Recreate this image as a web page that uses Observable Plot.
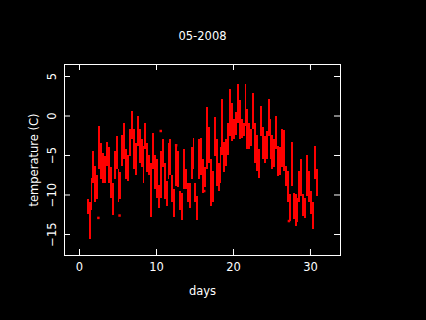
<!DOCTYPE html>
<html>
<head>
<meta charset="utf-8">
<script src="https://cdn.jsdelivr.net/npm/d3@7"></script>
<script src="https://cdn.jsdelivr.net/npm/@observablehq/plot@0.6"></script>
<style>
html, body { margin: 0; padding: 0; background: #000; }
#chart { width: 426px; height: 320px; }
</style>
</head>
<body>
<div id="chart"></div>
<script>
const title = "05-2008";
const xLabel = "days";
const yLabel = "temperature (C)";
const xTicks = [0, 10, 20, 30];
const xTickLabels = ["0", "10", "20", "30"];
const yTicks = [5, 0, -5, -10, -15];
const yTickLabels = ["5", "0", "\u22125", "\u221210", "\u221215"];

// days of the month and the four 6-hour blocks within each day
const days = [1,2,3,4,5,6,7,8,9,10,11,12,13,14,15,16,17,18,19,20,21,22,23,24,25,26,27,28,29,30];
const quarterOffsets = [0, 0.25, 0.5, 0.75];

// lowest / highest reading in each 6-hour block (°C)
const tempLow = [
  [-12.5,-15.6,-11.9,-8.5], [-11,-10.6,-6.8,-8.1], [-8.5,-8.5,-6.4,-8.5], [-10.5,-12.6,-8.1,-6.8],
  [-11,-10.6,-6.4,-5.5], [-8.1,-8.3,-5.1,-3], [-6.8,-7.5,-3.8,-6], [-6.5,-8.5,-4.3,-7.2],
  [-7.5,-12.8,-6.8,-9.3], [-10.5,-11.7,-10.5,-6.5], [-10.6,-11.4,-8.1,-7.5], [-11,-12.9,-8.9,-9],
  [-12,-13.2,-9.3,-9.3], [-11,-11.7,-8,-6.8], [-11,-13.2,-8.1,-7.5], [-9.8,-9,-6.8,-6],
  [-11.5,-11,-5.1,-8.9], [-9.5,-8.5,-5,-7.2], [-6.4,-5,-2.6,-3.2], [-3,-2.5,-1,-3],
  [-2.8,-2.6,-1.3,-4.3], [-4.3,-3.8,-1.7,-6], [-7,-7.9,-2.6,-5.5], [-6,-5.5,-2.6,-5.5],
  [-6.8,-6.5,-4.3,-7.6], [-7.5,-6.5,-7,-8.9], [-11,-13.3,-8.9,-13.1], [-14,-13.5,-11,-10.2],
  [-12.7,-13,-10.2,-11], [-12.5,-14.4,-8.1,-10.2]
];
const tempHigh = [
  [-10.6,-11,-7.9,-4.5], [-6.4,-7.5,-1.3,-3.5], [-4.7,-5.1,-3.4,-4], [-6.5,-8.5,-4.5,-2.6],
  [-6.8,-7.2,-2.5,-0.9], [-4.3,-5,-1.7,0.6], [-1.7,-3.5,0,-1.7], [-3,-3.8,-1,-3.5],
  [-5,-6,-2.2,-5], [-5.5,-8.8,-4.5,-3], [-6,-8.3,-3.5,-3], [-7.5,-9.3,-3.8,-4.5],
  [-9.5,-9.8,-4.3,-6.8], [-8.5,-8.5,-4,-2.8], [-8.5,-10.2,-3,-2.8], [-5.5,-6.5,1.1,-1.5],
  [-5.5,-7,-0.2,-3], [-6,-4,2.1,-3.4], [-3,-1,3.3,1.6], [-0.5,0.5,4,2],
  [-0.5,-0.9,4,0.8], [-1,-1.7,2.9,-1], [-2.5,-4.3,1.2,-1.5], [-2.6,-2,2.1,-0.5],
  [-2.5,-3,0,-3.8], [-4,-1.7,-1.8,-6.4], [-7,-10,-3.4,-9.8], [-10,-10.5,-7,-5.5],
  [-10,-10.5,-5,-7], [-9.5,-11,-3.8,-6.8]
];

// isolated readings away from the main streaks
const outlierDay = [2.45, 5.2, 10.55, 12.55, 16.2, 27.2];
const outlierTemp = [-12.9, -12.6, -1.9, -3.7, -9.5, -13.3];

const streaks = [];
days.forEach((d, i) => quarterOffsets.forEach((q, j) => {
  streaks.push({t: d + q, lo: tempLow[i][j], hi: tempHigh[i][j]});
}));
const outliers = outlierDay.map((d, i) => ({t: d, v: outlierTemp[i]}));

const W = 426, H = 320, mL = 64, mR = 86, mT = 64, mB = 65;
const frameW = W - mL - mR, frameH = H - mT - mB;
const red = "#ff0000";
const txt = {fill: "#fff", textAnchor: "middle", lineAnchor: "middle"};

const chart = Plot.plot({
  width: W, height: H,
  marginLeft: mL, marginRight: mR, marginTop: mT, marginBottom: mB,
  style: {background: "#000", color: "#fff", fontFamily: "DejaVu Sans", fontSize: "11.5px"},
  x: {domain: [-1.95, 33.9], axis: null},
  y: {domain: [-17.66, 6.52], axis: null},
  marks: [
    Plot.rect(streaks, {x1: "t", x2: d => d.t + 0.25, y1: "lo", y2: "hi", fill: red, shapeRendering: "crispEdges"}),
    Plot.dot(outliers, {x: "t", y: "v", symbol: "square", r: 1.4, fill: red}),
    Plot.frame({stroke: "#fff"}),
    Plot.tickX(xTicks, {x: d => d, stroke: "#fff", insetTop: frameH - 6}),
    Plot.tickX(xTicks, {x: d => d, stroke: "#fff", insetBottom: frameH - 6}),
    Plot.tickY(yTicks, {y: d => d, stroke: "#fff", insetRight: frameW - 6}),
    Plot.tickY(yTicks, {y: d => d, stroke: "#fff", insetLeft: frameW - 6}),
    Plot.text(xTicks, {x: d => d, text: (d, i) => xTickLabels[i], frameAnchor: "bottom", dy: 12, ...txt}),
    Plot.text(yTicks, {y: d => d, text: (d, i) => yTickLabels[i], frameAnchor: "left", dx: -12, rotate: -90, ...txt}),
    Plot.text([title], {frameAnchor: "top", dy: -28, ...txt}),
    Plot.text([xLabel], {frameAnchor: "bottom", dy: 36, ...txt}),
    Plot.text([yLabel], {frameAnchor: "left", dx: -30, rotate: -90, ...txt})
  ]
});
document.getElementById("chart").appendChild(chart);
</script>
</body>
</html>
